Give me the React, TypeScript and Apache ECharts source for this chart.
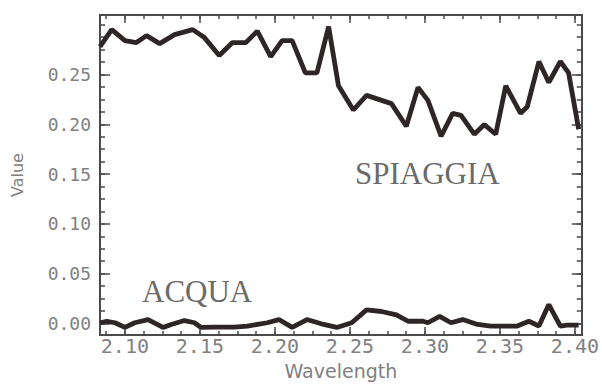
import React, { useEffect, useRef } from "react";
import * as echarts from "echarts";

const spiaggiaWavelength = [
  2.0834, 2.0912, 2.1, 2.1077, 2.1144, 2.1232, 2.1331, 2.1452, 2.153, 2.1629,
  2.1717, 2.1806, 2.1883, 2.1972, 2.2048, 2.2115, 2.2203, 2.228, 2.2358, 2.2424,
  2.2523, 2.2611, 2.2777, 2.2876, 2.2954, 2.302, 2.3108, 2.3185, 2.3241, 2.3329,
  2.3396, 2.3472, 2.3539, 2.3638, 2.3682, 2.376, 2.3826, 2.3903, 2.3958, 2.4025,
];
const spiaggiaValue = [
  0.278, 0.295, 0.284, 0.282, 0.289, 0.281, 0.29, 0.295, 0.287, 0.269,
  0.282, 0.282, 0.2935, 0.268, 0.284, 0.284, 0.2515, 0.2515, 0.298, 0.2386,
  0.2143, 0.229, 0.2207, 0.198, 0.237, 0.224, 0.188, 0.211, 0.209, 0.19,
  0.1997, 0.19, 0.2386, 0.211, 0.2175, 0.263, 0.242, 0.263, 0.2515, 0.195,
];

const acquaWavelength = [
  2.0834, 2.0879, 2.0934, 2.1, 2.1066, 2.1154, 2.1254, 2.1309, 2.1397, 2.1464,
  2.1508, 2.1596, 2.1729, 2.1817, 2.1949, 2.2027, 2.2115, 2.2214, 2.2325, 2.2413,
  2.2512, 2.2611, 2.2711, 2.281, 2.2888, 2.2987, 2.302, 2.3098, 2.3174, 2.3252,
  2.3351, 2.3439, 2.3616, 2.3693, 2.376, 2.3826, 2.3903, 2.3947, 2.4025,
];
const acquaValue = [
  0.0007, 0.002, 0.0007, -0.004, 0.0007, 0.0039, -0.004, -0.001, 0.0029, 0.0007,
  -0.004, -0.0036, -0.0036, -0.0026, 0.0007, 0.0039, -0.004, 0.0039, -0.001, -0.004,
  0.0007, 0.0136, 0.012, 0.0087, 0.0022, 0.0022, 0.0007, 0.0071, 0.0007, 0.0039,
  -0.001, -0.0026, -0.0026, 0.0022, -0.0026, 0.019, -0.0026, -0.0016, -0.0016,
];

const xMajorTicks = [2.1, 2.15, 2.2, 2.25, 2.3, 2.35, 2.4];
const xMinorTicks = [
  2.0875, 2.1, 2.1125, 2.125, 2.1375, 2.15, 2.1625, 2.175, 2.1875, 2.2, 2.2125,
  2.225, 2.2375, 2.25, 2.2625, 2.275, 2.2875, 2.3, 2.3125, 2.325, 2.3375, 2.35,
  2.3625, 2.375, 2.3875, 2.4,
];
const yMajorTicks = [0, 0.05, 0.1, 0.15, 0.2, 0.25];
const yMinorTicks = [
  0, 0.0125, 0.025, 0.0375, 0.05, 0.0625, 0.075, 0.0875, 0.1, 0.1125, 0.125,
  0.1375, 0.15, 0.1625, 0.175, 0.1875, 0.2, 0.2125, 0.225, 0.2375, 0.25, 0.2625,
  0.275, 0.2875, 0.3,
];

const xMin = 2.0834;
const xMax = 2.4046;
const yMin = -0.0117;
const yMax = 0.3097;

export default function App() {
  const ref = useRef<HTMLDivElement>(null);
  useEffect(() => {
    if (!ref.current) return;
    const chart = echarts.init(ref.current, null, { renderer: "svg" });
    const axisLineStyle = { color: "#4a4a4a", width: 2 };
    const tickStyle = { color: "#4a4a4a", width: 1.5 };
    const labelFont = {
      fontFamily: "DejaVu Sans Mono",
      color: "#808080",
    };
    const xBase = (position: string, ticks: number[], len: number, labels: boolean) => ({
      type: "value",
      min: xMin,
      max: xMax,
      position,
      splitLine: { show: false },
      axisLine: { show: true, onZero: false, lineStyle: axisLineStyle },
      axisTick: { show: true, inside: true, length: len, customValues: ticks, lineStyle: tickStyle },
      axisLabel: labels
        ? {
            show: true,
            customValues: xMajorTicks,
            formatter: (v: number) => v.toFixed(2),
            fontSize: 20,
            margin: 1,
            ...labelFont,
          }
        : { show: false },
    });
    const yBase = (position: string, ticks: number[], len: number, labels: boolean) => ({
      type: "value",
      min: yMin,
      max: yMax,
      position,
      splitLine: { show: false },
      axisLine: { show: true, onZero: false, lineStyle: axisLineStyle },
      axisTick: { show: true, inside: true, length: len, customValues: ticks, lineStyle: tickStyle },
      axisLabel: labels
        ? {
            show: true,
            customValues: yMajorTicks,
            formatter: (v: number) => v.toFixed(2),
            fontSize: 18,
            margin: 9,
            ...labelFont,
          }
        : { show: false },
    });
    const xAxes: any[] = [
      {
        ...xBase("bottom", xMajorTicks, 8, true),
        name: "Wavelength",
        nameLocation: "middle",
        nameGap: 22,
        nameTextStyle: { fontFamily: "DejaVu Sans", fontSize: 19, color: "#808080" },
      },
      xBase("bottom", xMinorTicks, 4, false),
      xBase("top", xMajorTicks, 8, false),
      xBase("top", xMinorTicks, 4, false),
    ];
    const yAxes: any[] = [
      {
        ...yBase("left", yMajorTicks, 10, true),
        name: "Value",
        nameLocation: "middle",
        nameGap: 75,
        nameRotate: 90,
        nameTextStyle: { fontFamily: "DejaVu Sans", fontSize: 16, color: "#808080" },
      },
      yBase("left", yMinorTicks, 5, false),
      yBase("right", yMajorTicks, 10, false),
      yBase("right", yMinorTicks, 5, false),
    ];
    const lineStyle = { color: "#2e2626", width: 4.8 };
    chart.setOption({
      animation: false,
      backgroundColor: "#ffffff",
      grid: { left: 100, top: 15, right: 17, bottom: 39, containLabel: false },
      xAxis: xAxes,
      yAxis: yAxes,
      series: [
        {
          name: "SPIAGGIA",
          type: "line",
          xAxisIndex: 0,
          yAxisIndex: 0,
          showSymbol: false,
          lineStyle,
          data: spiaggiaWavelength.map((w, i) => [w, spiaggiaValue[i]]),
        },
        {
          name: "ACQUA",
          type: "line",
          xAxisIndex: 0,
          yAxisIndex: 0,
          showSymbol: false,
          lineStyle,
          data: acquaWavelength.map((w, i) => [w, acquaValue[i]]),
        },
      ],
      graphic: [
        {
          type: "text",
          x: 355,
          y: 158,
          style: {
            text: "SPIAGGIA",
            fontFamily: "Liberation Serif",
            fontSize: 31,
            fill: "#6a6a6a",
            verticalAlign: "top",
          },
        },
        {
          type: "text",
          x: 142,
          y: 276,
          style: {
            text: "ACQUA",
            fontFamily: "Liberation Serif",
            fontSize: 31,
            fill: "#6a6a6a",
            verticalAlign: "top",
          },
        },
      ],
    });
    return () => chart.dispose();
  }, []);
  return (
    <div
      ref={ref}
      style={{ position: "fixed", left: 0, top: 0, width: 602, height: 385 }}
    />
  );
}
